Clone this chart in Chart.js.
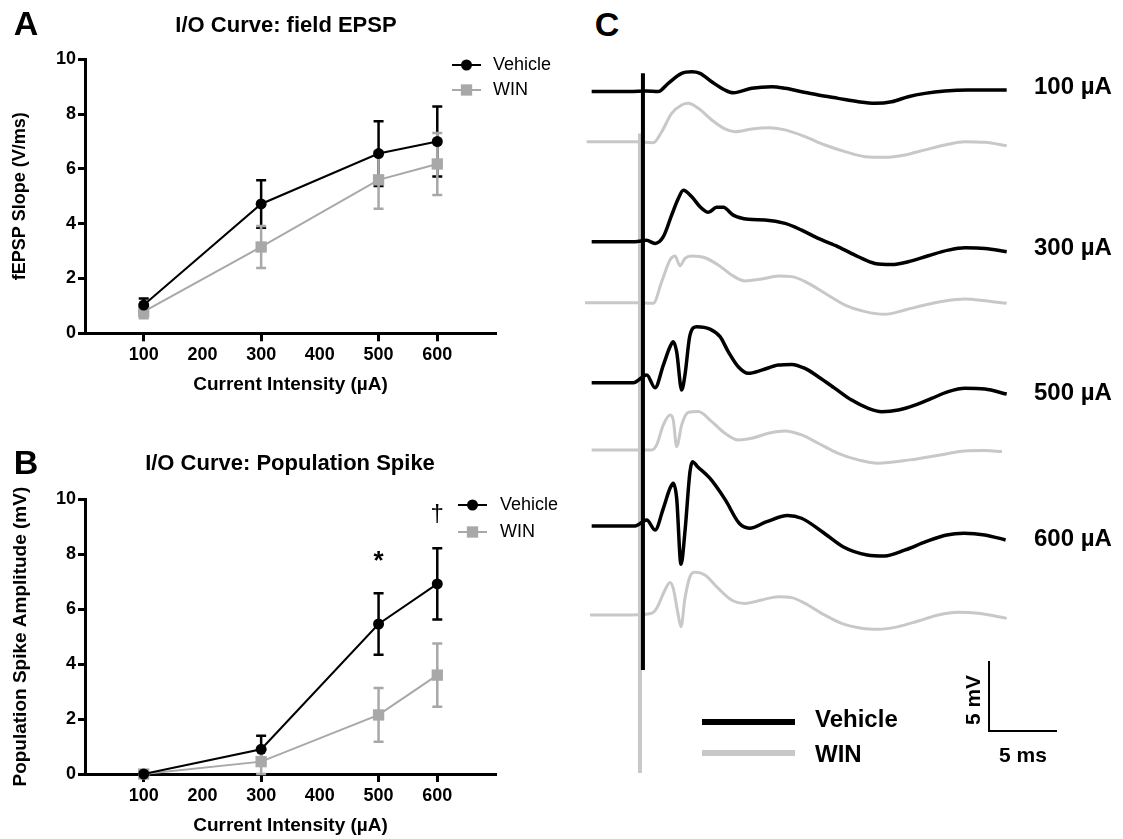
<!DOCTYPE html>
<html>
<head>
<meta charset="utf-8">
<script src="https://cdn.jsdelivr.net/npm/chart.js@4.4.0/dist/chart.umd.min.js"></script>
<style>
  body { margin: 0; background: #fff; font-family: 'Liberation Sans', Arial, sans-serif; }
  #page { position: relative; width: 1123px; height: 839px; overflow: hidden; background: #fff; }
  canvas { position: absolute; }
  .txt { position: absolute; font-weight: 700; color: #000; white-space: nowrap; line-height: 1; transform: translate(-50%, -50%); }
  .lft { transform: translate(0, -50%); }
  .bar { position: absolute; height: 6px; }
</style>
</head>
<body>
<div id="page">
  <canvas id="chartA" width="580" height="400" style="left:0;top:0"></canvas>
  <canvas id="chartB" width="580" height="439" style="left:0;top:400px"></canvas>
  <canvas id="chartC" width="500" height="740" style="left:580px;top:50px"></canvas>

  <div class="txt" style="left:26px;top:23px;font-size:34px">A</div>
  <div class="txt" style="left:26px;top:462px;font-size:34px">B</div>
  <div class="txt" style="left:607px;top:24px;font-size:34px">C</div>
  <div class="txt" style="left:286px;top:25px;font-size:22px">I/O Curve: field EPSP</div>
  <div class="txt" style="left:290px;top:463px;font-size:22px">I/O Curve: Population Spike</div>

  <div class="txt lft" style="left:1034px;top:86px;font-size:24px">100 µA</div>
  <div class="txt lft" style="left:1034px;top:247px;font-size:24px">300 µA</div>
  <div class="txt lft" style="left:1034px;top:392px;font-size:24px">500 µA</div>
  <div class="txt lft" style="left:1034px;top:538px;font-size:24px">600 µA</div>

  <div class="bar" style="left:702px;top:719px;width:93px;background:#000"></div>
  <div class="bar" style="left:702px;top:750px;width:93px;background:#c8c8c8"></div>
  <div class="txt lft" style="left:815px;top:719px;font-size:24px">Vehicle</div>
  <div class="txt lft" style="left:815px;top:754px;font-size:24px">WIN</div>
  <div class="txt" style="left:972px;top:700px;font-size:21px;transform:translate(-50%,-50%) rotate(-90deg)">5 mV</div>
  <div class="txt" style="left:1023px;top:754px;font-size:21px">5 ms</div>
</div>
<script>
// === I/O curves (A, B) ===
const currents = [100, 300, 500, 600];
const xTickValues = [100, 200, 300, 400, 500, 600];

const slopeVehicle = [1.03, 4.72, 6.56, 7.00];
const slopeVehicleErr = [0.24, 0.87, 1.18, 1.28];
const slopeWin = [0.79, 3.15, 5.60, 6.18];
const slopeWinErr = [0.24, 0.77, 1.05, 1.13];

const spikeVehicle = [0, 0.90, 5.46, 6.92];
const spikeVehicleErr = [0, 0.49, 1.12, 1.30];
const spikeWin = [0, 0.45, 2.15, 3.60];
const spikeWinErr = [0, 0.45, 0.98, 1.15];

const sigMarks = ['*', '†'];
const sigX = [500, 600];
const sigY = [7.9, 9.46];

// === example traces (C): [time ms, mV from baseline] ===
const trVeh100 = [[0.27,0],[3.09,0],[4.26,0.03],[5.17,0],[5.90,0.59],[6.89,1.30],[7.63,1.41],[8.24,1.30],[9.10,0.70],[10.07,0.11],[10.68,-0.09],[12.04,0.23],[13.51,0.34],[14.49,0.23],[15.71,-0.01],[16.93,-0.25],[18.40,-0.49],[19.88,-0.73],[21.10,-0.84],[22.33,-0.73],[23.55,-0.37],[24.78,-0.13],[26.25,0.04],[27.96,0.11],[30.79,0.11]];
const trWin100 = [[-0.1,0],[3.46,0],[4.8,-0.07],[5.42,0.71],[6.15,2.02],[6.89,2.62],[7.38,2.74],[8.11,2.38],[9.10,1.55],[10.07,0.91],[10.81,0.71],[12.04,0.91],[13.26,1.0],[14.49,0.84],[15.96,0.36],[17.43,-0.24],[18.9,-0.71],[20.37,-1.07],[21.84,-1.12],[23.31,-0.95],[24.78,-0.59],[26.25,-0.24],[27.72,0],[29.19,-0.05],[30.79,-0.29]];
const trVeh300 = [[0.27,0],[3.46,0],[4.3,0.1],[4.93,-0.12],[5.54,0.36],[6.15,1.9],[6.64,3.09],[7.01,3.68],[7.63,3.21],[8.24,2.5],[8.85,2.1],[9.46,2.46],[9.95,2.46],[10.68,1.9],[11.79,1.6],[13.01,1.55],[14.49,1.31],[15.71,0.83],[16.93,0.24],[18.4,-0.36],[19.88,-1.07],[21.1,-1.55],[22.33,-1.63],[23.55,-1.43],[25.02,-1.0],[26.49,-0.6],[27.72,-0.43],[29.19,-0.48],[30.79,-0.71]];
const trWin300 = [[-0.22,0],[3.46,0],[4.8,-0.05],[5.42,1.5],[6.03,3.05],[6.4,3.33],[6.76,2.64],[7.13,3.17],[7.63,3.33],[8.6,3.21],[9.58,2.69],[10.56,1.98],[11.54,1.55],[12.77,1.69],[13.99,1.9],[14.98,1.86],[16.2,1.38],[17.43,0.67],[18.9,-0.17],[20.37,-0.64],[21.84,-0.83],[23.31,-0.52],[24.78,-0.17],[26.25,0.12],[27.72,0.26],[29.19,0.14],[30.79,-0.05]];
const trVeh500 = [[0.27,0],[3.33,0],[4.32,0.55],[4.93,-0.36],[5.54,1.26],[6.03,2.57],[6.27,2.93],[6.52,2.21],[6.89,-0.52],[7.13,0.55],[7.5,3.4],[7.99,4.0],[8.97,3.83],[9.71,3.29],[10.32,2.21],[11.05,1.14],[11.79,0.67],[12.77,0.9],[13.99,1.26],[14.98,1.31],[15.96,1.02],[16.93,0.43],[18.16,-0.4],[19.39,-1.24],[20.61,-1.83],[21.6,-2.07],[22.82,-1.95],[24.04,-1.6],[25.27,-1.12],[26.49,-0.64],[27.72,-0.4],[29.19,-0.45],[30.79,-0.81]];
const trWin500 = [[0.27,0],[3.46,0],[4.68,0],[5.05,0.36],[5.54,1.79],[6.03,2.5],[6.27,2.14],[6.52,0.24],[6.89,1.79],[7.38,2.69],[8.11,2.74],[9.1,2.02],[10.07,1.19],[11.05,0.71],[12.04,0.83],[13.26,1.19],[14.49,1.36],[15.71,1.07],[16.93,0.48],[18.4,-0.24],[19.88,-0.71],[21.3,-0.95],[23.68,-0.71],[25.88,-0.36],[27.72,-0.07],[29.19,-0.04],[30.44,-0.12]];
const trVeh600 = [[0.27,0],[3.46,0],[4.32,0.43],[4.93,-0.29],[5.54,1.26],[6.03,2.69],[6.27,3.05],[6.52,1.98],[6.84,-2.74],[7.13,-0.41],[7.5,3.88],[7.68,4.59],[8.06,4.23],[8.96,3.41],[10.1,1.86],[11.12,0.19],[11.88,-0.16],[13.15,0.31],[14.68,0.74],[15.7,0.55],[17.22,-0.41],[18.75,-1.48],[20.53,-2.07],[21.8,-2.14],[23.33,-1.71],[24.85,-1.12],[26.38,-0.64],[27.65,-0.52],[29.18,-0.64],[30.71,-1.0]];
const trWin600 = [[0.15,0],[3.21,0],[4.68,0.12],[5.05,0.48],[5.66,1.79],[6.03,2.33],[6.27,1.9],[6.59,0.24],[6.84,-0.83],[7.13,1.19],[7.5,2.74],[7.87,3.05],[8.6,2.86],[9.58,1.9],[10.56,1.07],[11.54,0.83],[12.77,1.07],[13.99,1.31],[14.98,1.24],[15.96,0.83],[17.18,0.12],[18.65,-0.6],[20.13,-0.95],[21.35,-1.02],[22.82,-0.83],[24.29,-0.43],[25.76,0],[27.23,0.19],[28.7,0.12],[30.79,-0.24]];

// stacking offset of each trace in the figure (mV)
const traceBaselines = [49.89, 46.31, 39.16, 34.81, 29.09, 24.29, 18.86, 12.5];
// stimulus artifacts: vehicle, WIN
const artifactT = [4.04, 3.82];
const artifactTop = [51.2, 46.9];
const artifactBottom = [8.57, 1.21];
// scale bar corner and size
const scaleBarT = 29.49, scaleBarV = 4.21, scaleBarMs = 5, scaleBarMv = 5;

Chart.defaults.font.family = '"Liberation Sans", Arial, sans-serif';
Chart.defaults.color = '#000';
Chart.defaults.animation = false;
Chart.defaults.plugins.legend.display = false;
Chart.defaults.plugins.tooltip.enabled = false;

const VEH = '#000000', WINC = '#a8a8a8';

const errorBars = {
  id: 'errorBars',
  beforeDatasetsDraw(chart) {
    const { ctx, scales: { x, y } } = chart;
    chart.data.datasets.forEach(ds => {
      if (!ds.errors) return;
      ctx.save();
      ctx.strokeStyle = ds.borderColor;
      ctx.lineWidth = 2.5;
      ds.data.forEach((p, j) => {
        const e = ds.errors[j];
        if (!e) return;
        const px = x.getPixelForValue(p.x);
        const top = y.getPixelForValue(p.y + e);
        const bot = y.getPixelForValue(Math.max(0, p.y - e));
        ctx.beginPath();
        ctx.moveTo(px, top); ctx.lineTo(px, bot);
        ctx.moveTo(px - 5, top); ctx.lineTo(px + 5, top);
        ctx.moveTo(px - 5, bot); ctx.lineTo(px + 5, bot);
        ctx.stroke();
      });
      ctx.restore();
    });
  }
};

const sideLegend = {
  id: 'sideLegend',
  afterDraw(chart, args, o) {
    const ctx = chart.ctx;
    chart.data.datasets.forEach((ds, i) => {
      const yy = o.y + i * o.dy;
      ctx.save();
      ctx.strokeStyle = ds.borderColor;
      ctx.lineWidth = 2;
      ctx.beginPath(); ctx.moveTo(o.x1, yy); ctx.lineTo(o.x2, yy); ctx.stroke();
      ctx.fillStyle = ds.pointBackgroundColor;
      Chart.helpers.drawPoint(ctx, { pointStyle: ds.pointStyle, radius: ds.pointRadius, rotation: 0, borderWidth: 0 }, (o.x1 + o.x2) / 2, yy);
      ctx.fillStyle = '#000';
      ctx.font = '18px "Liberation Sans", Arial, sans-serif';
      ctx.textBaseline = 'middle';
      ctx.fillText(ds.label, o.tx, yy);
      ctx.restore();
    });
  }
};

const sigPlugin = {
  id: 'sigPlugin',
  afterDatasetsDraw(chart) {
    const { ctx, scales: { x, y } } = chart;
    ctx.save();
    ctx.fillStyle = '#000';
    ctx.textAlign = 'center';
    ctx.textBaseline = 'middle';
    sigMarks.forEach((m, i) => {
      ctx.font = (m === '*' ? 'bold 26px' : '24px') + ' "Liberation Sans", Arial, sans-serif';
      ctx.fillText(m, x.getPixelForValue(sigX[i]), y.getPixelForValue(sigY[i]) + (m === '*' ? 5 : 0));
    });
    ctx.restore();
  }
};

function ioChart(id, veh, vehErr, win, winErr, cfg, extra) {
  const mk = (label, vals, errs, color, style, r) => ({
    label, errors: errs,
    data: currents.map((c, i) => ({ x: c, y: vals[i] })),
    borderColor: color, backgroundColor: color, pointBackgroundColor: color,
    borderWidth: 2, pointStyle: style, pointRadius: r, pointBorderWidth: 0,
    pointHoverRadius: r, tension: 0, clip: false
  });
  return new Chart(document.getElementById(id), {
    type: 'line',
    data: { datasets: [mk('Vehicle', veh, vehErr, VEH, 'circle', 5.5), mk('WIN', win, winErr, WINC, 'rect', 8)] },
    options: {
      responsive: false, events: [],
      layout: { padding: { left: 0, top: cfg.top, right: 84, bottom: 0 } },
      scales: {
        x: {
          type: 'linear', min: 0, max: 700,
          afterBuildTicks: s => { s.ticks = xTickValues.map(v => ({ value: v })); },
          afterFit: s => { s.height = cfg.xH; },
          border: { display: true, color: '#000', width: 3 },
          grid: { drawOnChartArea: false, drawTicks: true, tickLength: 8, tickWidth: 3,
                  tickColor: c => currents.includes(c.tick && c.tick.value) ? '#000' : 'rgba(0,0,0,0)' },
          ticks: { color: '#000', font: { size: 18, weight: 'bold' }, padding: 3, maxRotation: 0, autoSkip: false },
          title: { display: true, text: 'Current Intensity (µA)', color: '#000', font: { size: 19, weight: 'bold' }, padding: { top: 0, bottom: cfg.xTitlePad } }
        },
        y: {
          min: 0, max: 10,
          afterFit: s => { s.width = 85; },
          border: { display: true, color: '#000', width: 3 },
          grid: { drawOnChartArea: false, drawTicks: true, tickLength: 7, tickWidth: 3, tickColor: '#000' },
          ticks: { stepSize: 2, color: '#000', font: { size: 18, weight: 'bold' }, padding: 2 },
          title: { display: true, text: cfg.yTitle, color: '#000', font: { size: cfg.yTitleSize, weight: 'bold' }, padding: { top: cfg.yTitlePad, bottom: 0 } }
        }
      },
      plugins: { sideLegend: cfg.legend }
    },
    plugins: [errorBars, sideLegend].concat(extra || [])
  });
}

ioChart('chartA', slopeVehicle, slopeVehicleErr, slopeWin, slopeWinErr, {
  top: 59.3, xH: 66.7, xTitlePad: 3.6, yTitle: 'fEPSP Slope (V/ms)', yTitleSize: 18, yTitlePad: 9, 
  legend: { x1: 452, x2: 481, y: 65, dy: 25, tx: 493 }
});
ioChart('chartB', spikeVehicle, spikeVehicleErr, spikeWin, spikeWinErr, {
  top: 99.3, xH: 65, xTitlePad: 1.6, yTitle: 'Population Spike Amplitude (mV)', yTitleSize: 19, yTitlePad: 9.6,
  legend: { x1: 458, x2: 487, y: 105, dy: 27, tx: 500 }
}, [sigPlugin]);

// === traces chart (C) ===
const traces = [trVeh100, trWin100, trVeh300, trWin300, trVeh500, trWin500, trVeh600, trWin600];
const traceSets = traces.map((tr, i) => ({
  data: tr.map(([t, v]) => ({ x: t, y: v + traceBaselines[i] })),
  borderColor: i % 2 ? '#c8c8c8' : '#000000',
  borderWidth: i % 2 ? 3 : 3.5, pointRadius: 0, cubicInterpolationMode: 'monotone',
  order: i % 2 ? 3 : 1
}));
const artifactSets = artifactT.map((t, i) => ({
  data: [{ x: t, y: artifactTop[i] }, { x: t, y: artifactBottom[i] }],
  borderColor: i ? '#c8c8c8' : '#000000',
  borderWidth: 4, pointRadius: 0, tension: 0, order: i ? 2 : 0
}));
const scaleBarSet = {
  data: [{ x: scaleBarT, y: scaleBarV + scaleBarMv }, { x: scaleBarT, y: scaleBarV }, { x: scaleBarT + scaleBarMs, y: scaleBarV }],
  borderColor: '#000', borderWidth: 2, pointRadius: 0, tension: 0, borderJoinStyle: 'miter', order: 0
};

new Chart(document.getElementById('chartC'), {
  type: 'line',
  data: { datasets: traceSets.concat(artifactSets, [scaleBarSet]) },
  options: {
    responsive: false, events: [],
    layout: { padding: 0 },
    scales: {
      x: { type: 'linear', display: false, min: -0.588, max: 36.18 },
      y: { display: false, min: 0, max: 52.857 }
    }
  }
});
</script>
</body>
</html>
